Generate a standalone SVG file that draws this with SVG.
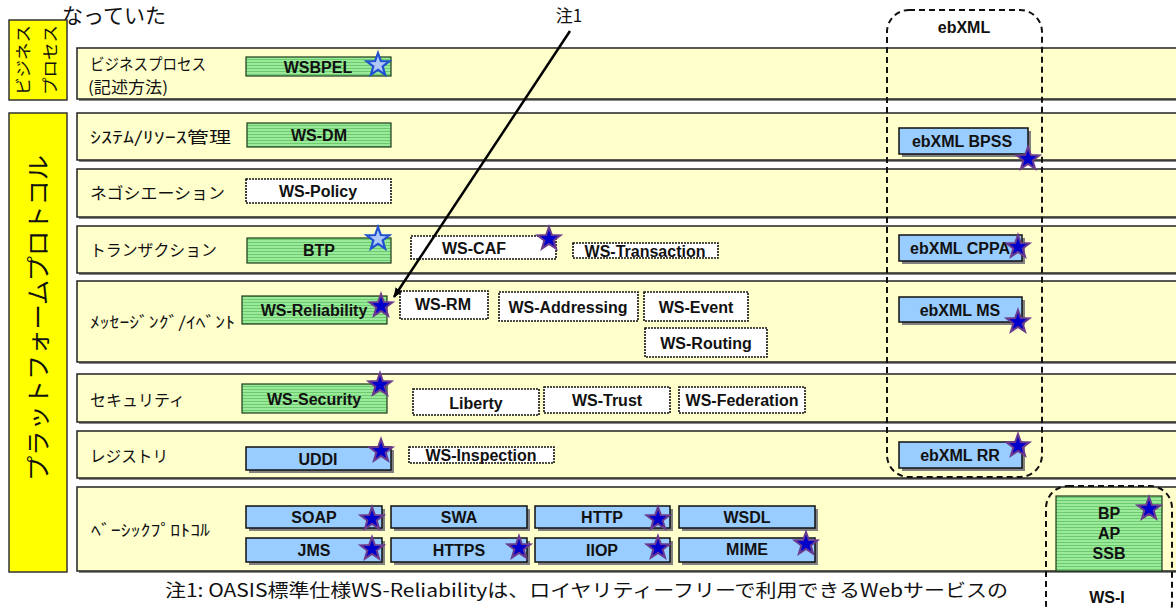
<svg xmlns="http://www.w3.org/2000/svg" width="1176" height="608" viewBox="0 0 1176 608">
<style>
.band{fill:#FFFFCC;stroke:#222;stroke-width:1.5}
.bsh{fill:#888}
.side{fill:#FFFF00;stroke:#333;stroke-width:1.5}
.jp{font-family:"Noto Sans CJK JP","Noto Sans",sans-serif;fill:#111}
.lbl{font-family:"Noto Sans CJK JP","Noto Sans",sans-serif;font-size:16px;fill:#111}
.bt{font-family:"Liberation Sans",Arial,sans-serif;font-weight:bold;font-size:16px;text-anchor:middle;fill:#111}
.green{fill:url(#stripe);stroke:#1a3a1a;stroke-width:1.2}
.blue{fill:#99CCFF;stroke:#111;stroke-width:1.5}
.sh{fill:#808080}
.dot{fill:#fff;stroke:#111;stroke-width:1.6;stroke-dasharray:2 1}
.star{fill:#0000CC;stroke:#6A3A8F;stroke-width:2}
.ostar{fill:#AFC8F5;stroke:#1E50D0;stroke-width:2.2}
.dash{fill:none;stroke:#111;stroke-width:2;stroke-dasharray:6 4}
</style>
<defs>
<pattern id="stripe" width="4" height="3" patternUnits="userSpaceOnUse">
<rect width="4" height="3" fill="#9BEA9B"/>
<line x1="0" y1="2.5" x2="4" y2="2.5" stroke="#5FC35F" stroke-width="0.8"/>
</pattern>
<path id="star" d="M0,-12 L2.9,-4 L11.4,-3.7 L4.7,1.5 L7.1,9.7 L0,4.9 L-7.1,9.7 L-4.7,1.5 L-11.4,-3.7 L-2.9,-4 Z"/>
<marker id="arr" markerWidth="10" markerHeight="8" refX="9" refY="4" orient="auto" markerUnits="userSpaceOnUse">
<path d="M0,0 L10,4 L0,8 Z" fill="#000"/>
</marker>
</defs>
<rect width="1176" height="608" fill="#fff"/>

<text class="jp" x="62" y="23" font-size="21">なっていた</text>

<g id="side-bp">
<rect class="side" x="9" y="20" width="58" height="80"/>
<text class="jp" font-size="16" transform="translate(29,95) rotate(-90)" textLength="70" lengthAdjust="spacingAndGlyphs">ビジネス</text>
<text class="jp" font-size="16" transform="translate(56,95) rotate(-90)" textLength="70" lengthAdjust="spacingAndGlyphs">プロセス</text>
</g>
<g id="side-platform">
<rect class="side" x="9" y="113" width="58" height="459"/>
<text class="jp" font-size="24" transform="translate(47,481) rotate(-90)" textLength="326" lengthAdjust="spacingAndGlyphs">プラットフォームプロトコル</text>
</g>

<g id="bands">
<rect class="bsh" x="79" y="50" width="1100" height="51"/>
<rect class="band" x="77" y="48" width="1100" height="51"/>
<rect class="bsh" x="79" y="115" width="1100" height="47"/>
<rect class="band" x="77" y="113" width="1100" height="47"/>
<rect class="bsh" x="79" y="171" width="1100" height="48"/>
<rect class="band" x="77" y="169" width="1100" height="48"/>
<rect class="bsh" x="79" y="228" width="1100" height="47"/>
<rect class="band" x="77" y="226" width="1100" height="47"/>
<rect class="bsh" x="79" y="283" width="1100" height="81"/>
<rect class="band" x="77" y="281" width="1100" height="81"/>
<rect class="bsh" x="79" y="376" width="1100" height="48"/>
<rect class="band" x="77" y="374" width="1100" height="48"/>
<rect class="bsh" x="79" y="433" width="1100" height="47"/>
<rect class="band" x="77" y="431" width="1100" height="47"/>
<rect class="bsh" x="79" y="489" width="1100" height="84"/>
<rect class="band" x="77" y="487" width="1100" height="84"/>
</g>

<g id="row-labels">
<text class="lbl" x="90" y="70" font-size="13.5" textLength="116" lengthAdjust="spacingAndGlyphs">ビジネスプロセス</text>
<text class="lbl" x="88" y="93" font-size="12" textLength="80" lengthAdjust="spacingAndGlyphs">(記述方法)</text>
<text class="lbl" x="90" y="143" font-size="17" textLength="141" lengthAdjust="spacingAndGlyphs">ｼｽﾃﾑ/ﾘｿｰｽ管理</text>
<text class="lbl" x="90" y="199" textLength="135" lengthAdjust="spacingAndGlyphs">ネゴシエーション</text>
<text class="lbl" x="90" y="256" textLength="127" lengthAdjust="spacingAndGlyphs">トランザクション</text>
<text class="lbl" x="90" y="328" font-size="17" textLength="145" lengthAdjust="spacingAndGlyphs">ﾒｯｾｰｼﾞﾝｸﾞ/ｲﾍﾞﾝﾄ</text>
<text class="lbl" x="90" y="406" textLength="95" lengthAdjust="spacingAndGlyphs">セキュリティ</text>
<text class="lbl" x="90" y="462" textLength="78" lengthAdjust="spacingAndGlyphs">レジストリ</text>
<text class="lbl" x="91" y="536" font-size="17" textLength="119" lengthAdjust="spacingAndGlyphs">ﾍﾞｰｼｯｸﾌﾟﾛﾄｺﾙ</text>
</g>

<g id="n-wsbpel"><rect class="green" x="246" y="57" width="145" height="19"/><text class="bt" x="318" y="73" font-size="18">WSBPEL</text><use href="#star" class="ostar" x="378" y="65"/></g>
<g id="n-wsdm"><rect class="green" x="247" y="123" width="144" height="24"/><text class="bt" x="319" y="141">WS-DM</text></g>
<g id="n-wspolicy"><rect class="dot" x="246" y="179" width="145" height="24"/><text class="bt" x="318" y="197">WS-Policy</text></g>
<g id="n-btp"><rect class="green" x="247" y="238" width="144" height="25"/><text class="bt" x="319" y="256">BTP</text><use href="#star" class="ostar" x="378" y="239"/></g>
<g id="n-wscaf"><rect class="dot" x="411" y="236" width="145" height="23"/><text class="bt" x="474" y="254">WS-CAF</text><use href="#star" class="star" x="549" y="239"/></g>
<g id="n-wstransaction"><rect class="dot" x="573" y="243" width="145" height="15"/><text class="bt" x="645" y="257">WS-Transaction</text></g>
<g id="n-wsreliability"><rect class="green" x="242" y="296" width="145" height="28"/><text class="bt" x="314" y="316">WS-Reliability</text><use href="#star" class="star" x="381" y="306"/></g>
<g id="n-wsrm"><rect class="dot" x="400" y="291" width="88" height="28"/><text class="bt" x="443" y="310">WS-RM</text></g>
<g id="n-wsaddressing"><rect class="dot" x="499" y="292" width="139" height="29"/><text class="bt" x="568" y="313">WS-Addressing</text></g>
<g id="n-wsevent"><rect class="dot" x="644" y="292" width="104" height="29"/><text class="bt" x="696" y="313">WS-Event</text></g>
<g id="n-wsrouting"><rect class="dot" x="645" y="328" width="122" height="29"/><text class="bt" x="706" y="349">WS-Routing</text></g>
<g id="n-wssecurity"><rect class="green" x="242" y="384" width="145" height="29"/><text class="bt" x="314" y="405">WS-Security</text><use href="#star" class="star" x="380" y="385"/></g>
<g id="n-liberty"><rect class="dot" x="413" y="389" width="126" height="26"/><text class="bt" x="476" y="409">Liberty</text></g>
<g id="n-wstrust"><rect class="dot" x="544" y="387" width="126" height="26"/><text class="bt" x="607" y="406">WS-Trust</text></g>
<g id="n-wsfederation"><rect class="dot" x="679" y="387" width="126" height="26"/><text class="bt" x="742" y="406">WS-Federation</text></g>
<g id="n-uddi"><rect class="sh" x="249" y="450" width="145" height="23"/><rect class="blue" x="246" y="447" width="145" height="23"/><text class="bt" x="318" y="465">UDDI</text><use href="#star" class="star" x="381" y="451"/></g>
<g id="n-wsinspection"><rect class="dot" x="409" y="447" width="145" height="16"/><text class="bt" x="481" y="461">WS-Inspection</text></g>

<g id="n-soap"><rect class="sh" x="249" y="509" width="136" height="22"/><rect class="blue" x="246" y="506" width="136" height="22"/><text class="bt" x="314" y="523">SOAP</text><use href="#star" class="star" x="372" y="519"/></g>
<g id="n-swa"><rect class="sh" x="394" y="509" width="136" height="22"/><rect class="blue" x="391" y="506" width="136" height="22"/><text class="bt" x="459" y="523">SWA</text></g>
<g id="n-http"><rect class="sh" x="538" y="509" width="135" height="22"/><rect class="blue" x="535" y="506" width="135" height="22"/><text class="bt" x="602" y="523">HTTP</text><use href="#star" class="star" x="658" y="519"/></g>
<g id="n-wsdl"><rect class="sh" x="682" y="509" width="136" height="22"/><rect class="blue" x="679" y="506" width="136" height="22"/><text class="bt" x="747" y="523">WSDL</text></g>
<g id="n-jms"><rect class="sh" x="249" y="541" width="136" height="24"/><rect class="blue" x="246" y="538" width="136" height="24"/><text class="bt" x="314" y="556">JMS</text><use href="#star" class="star" x="372" y="549"/></g>
<g id="n-https"><rect class="sh" x="394" y="541" width="136" height="24"/><rect class="blue" x="391" y="538" width="136" height="24"/><text class="bt" x="459" y="556">HTTPS</text><use href="#star" class="star" x="519" y="548"/></g>
<g id="n-iiop"><rect class="sh" x="538" y="541" width="135" height="24"/><rect class="blue" x="535" y="538" width="135" height="24"/><text class="bt" x="602" y="556">IIOP</text><use href="#star" class="star" x="658" y="548"/></g>
<g id="n-mime"><rect class="sh" x="682" y="541" width="136" height="24"/><rect class="blue" x="679" y="538" width="136" height="24"/><text class="bt" x="747" y="555">MIME</text><use href="#star" class="star" x="806" y="544"/></g>

<g id="n-ebxml-bpss"><rect class="sh" x="902" y="131" width="129" height="26"/><rect class="blue" x="899" y="128" width="129" height="26"/><text class="bt" x="962" y="147" font-size="15">ebXML BPSS</text><use href="#star" class="star" x="1028" y="159"/></g>
<g id="n-ebxml-cppa"><rect class="sh" x="902" y="238" width="123" height="26"/><rect class="blue" x="899" y="235" width="123" height="26"/><text class="bt" x="960" y="254" font-size="15">ebXML CPPA</text><use href="#star" class="star" x="1018" y="247"/></g>
<g id="n-ebxml-ms"><rect class="sh" x="902" y="300" width="123" height="25"/><rect class="blue" x="899" y="297" width="123" height="25"/><text class="bt" x="960" y="316" font-size="15">ebXML MS</text><use href="#star" class="star" x="1018" y="322"/></g>
<g id="n-ebxml-rr"><rect class="sh" x="902" y="445" width="123" height="26"/><rect class="blue" x="899" y="442" width="123" height="26"/><text class="bt" x="960" y="461" font-size="15">ebXML RR</text><use href="#star" class="star" x="1018" y="446"/></g>

<g id="n-wsi-box"><rect class="green" x="1056" y="496" width="106" height="75"/>
<text class="bt" x="1109" y="519" font-size="15">BP</text>
<text class="bt" x="1109" y="539" font-size="15">AP</text>
<text class="bt" x="1109" y="559" font-size="15">SSB</text>
<use href="#star" class="star" x="1149" y="509"/></g>

<g id="g-ebxml"><rect class="dash" x="887" y="10" width="155" height="467" rx="22"/><text class="bt" x="964" y="33" font-size="15">ebXML</text></g>
<g id="g-wsi"><rect class="dash" x="1046" y="486" width="126" height="140" rx="22"/><text class="bt" x="1107" y="603" font-size="15">WS-I</text></g>

<g id="connectors">
<line x1="570" y1="31" x2="394" y2="297" stroke="#000" stroke-width="2.5" marker-end="url(#arr)"/>
</g>
<text class="jp" x="569" y="22" font-size="17" text-anchor="middle">注1</text>

<text class="jp" x="165" y="597" font-size="18" textLength="843" lengthAdjust="spacingAndGlyphs">注1: OASIS標準仕様WS-Reliabilityは、ロイヤリティーフリーで利用できるWebサービスの</text>
</svg>
